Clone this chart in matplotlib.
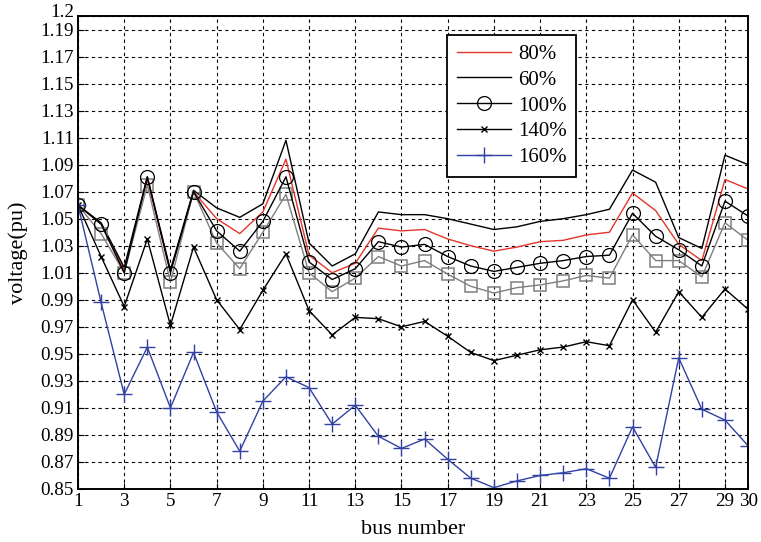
import numpy as np
import matplotlib as mpl
mpl.use("Agg")
import matplotlib.pyplot as plt
from matplotlib.transforms import ScaledTranslation

plt.rcParams.update({
    "font.family": "Liberation Serif", "font.size": 12,
    "xtick.direction": "in", "ytick.direction": "in",
})

# ---- data ----
bus = np.arange(1, 31)
v60 = [1.060, 1.047, 1.014, 1.081, 1.012, 1.071, 1.058, 1.051, 1.061, 1.108,
       1.032, 1.015, 1.024, 1.055, 1.053, 1.053, 1.050, 1.046, 1.042, 1.044,
       1.048, 1.050, 1.053, 1.057, 1.086, 1.077, 1.036, 1.028, 1.097, 1.090]
v80 = [1.060, 1.046, 1.012, 1.079, 1.011, 1.070, 1.050, 1.039, 1.055, 1.094,
       1.023, 1.010, 1.017, 1.043, 1.041, 1.042, 1.035, 1.030, 1.026, 1.029,
       1.033, 1.034, 1.038, 1.040, 1.069, 1.056, 1.031, 1.019, 1.079, 1.072]
v100 = [1.060, 1.046, 1.010, 1.081, 1.010, 1.070, 1.041, 1.026, 1.048, 1.081,
        1.018, 1.005, 1.013, 1.033, 1.029, 1.031, 1.022, 1.015, 1.011, 1.014,
        1.017, 1.019, 1.022, 1.023, 1.054, 1.037, 1.027, 1.015, 1.063, 1.052]
v120 = [1.060, 1.039, 1.010, 1.075, 1.003, 1.070, 1.032, 1.013, 1.040, 1.068,
        1.010, 0.996, 1.006, 1.022, 1.015, 1.019, 1.009, 1.000, 0.995, 0.999,
        1.001, 1.004, 1.008, 1.006, 1.038, 1.019, 1.019, 1.007, 1.047, 1.034]
v140 = [1.060, 1.022, 0.985, 1.035, 0.971, 1.029, 0.990, 0.968, 0.997, 1.024,
        0.982, 0.964, 0.977, 0.976, 0.970, 0.974, 0.963, 0.951, 0.945, 0.949,
        0.953, 0.955, 0.959, 0.956, 0.990, 0.966, 0.996, 0.977, 0.998, 0.983]
v160 = [1.060, 0.988, 0.920, 0.955, 0.910, 0.951, 0.907, 0.878, 0.915, 0.933,
        0.925, 0.898, 0.912, 0.889, 0.880, 0.887, 0.872, 0.858, 0.851, 0.856,
        0.860, 0.862, 0.865, 0.858, 0.896, 0.866, 0.947, 0.909, 0.901, 0.882]
xticks = [1, 3, 5, 7, 9, 11, 13, 15, 17, 19, 21, 23, 25, 27, 29, 30]
yticks = [0.85, 0.87, 0.89, 0.91, 0.93, 0.95, 0.97, 0.99, 1.01, 1.03, 1.05,
          1.07, 1.09, 1.11, 1.13, 1.15, 1.17, 1.19, 1.2]
ylabels = [f"{t:.2f}" if t != 1.2 else "1.2" for t in yticks]

RED = "#e5352b"; BLUE = "#3242a4"; GRAY = "#7f7f7f"

fig = plt.figure(figsize=(7.61, 5.42), dpi=100)
ax = fig.add_axes([0.1025, 0.0978, 0.8805, 0.8727])

ax.plot(bus, v80, color=RED, lw=1.0, label="80%")
ax.plot(bus, v60, color="black", lw=1.0, label="60%")
ax.plot(bus, v120, color=GRAY, lw=1.0, marker="s", ms=9, mfc="none", mec=GRAY, mew=1.1)
ax.plot(bus, v100, color="black", lw=1.0, marker="o", ms=10, mfc="none", mew=0.9, label="100%")
ax.plot(bus, v140, color="black", lw=1.0, marker="x", ms=4, mew=1.0, label="140%")
ax.plot(bus, v160, color=BLUE, lw=1.0, marker="+", ms=11, mew=1.0, label="160%")

ax.set_xlim(1, 30); ax.set_ylim(0.85, 1.2)
ax.set_xticks(xticks)
ax.set_yticks(yticks); ax.set_yticklabels(ylabels)
ax.tick_params(length=4, width=0.8, pad=3, labelsize=13.8)
# the top "1.2" label sits slightly higher than its tick, as in the original
top = ax.get_yticklabels()[-1]
top.set_transform(top.get_transform() + ScaledTranslation(0, 4 / 72, fig.dpi_scale_trans))
ax.grid(True, color="black", linestyle=(0, (3, 3)), linewidth=0.8)
for s in ax.spines.values():
    s.set_linewidth(1.4)
ax.set_xlabel("bus number", fontsize=16, labelpad=7)
ax.set_ylabel("voltage(pu)", fontsize=16, labelpad=9)

leg = ax.legend(loc="upper left", bbox_to_anchor=(0.551, 0.960), borderaxespad=0,
                fontsize=15, handlelength=2.6, handletextpad=0.35, labelspacing=0.3,
                borderpad=0.45, fancybox=False, framealpha=1, edgecolor="black")
leg.get_frame().set_linewidth(1.3)

fig.savefig("out.png", dpi=100)
